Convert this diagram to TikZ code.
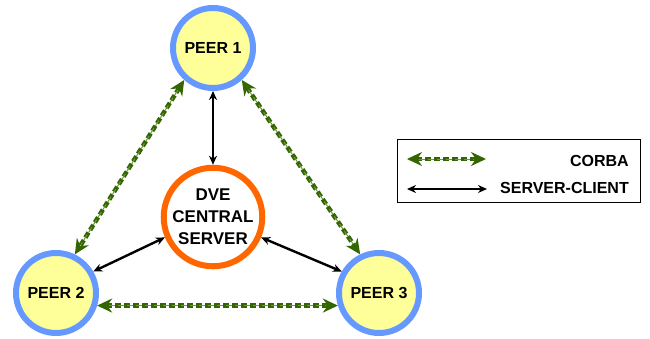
\documentclass[tikz,border=0pt]{standalone}
\usepackage{fontspec}
\setmainfont{Liberation Sans}
\usetikzlibrary{arrows.meta}

\definecolor{peerfill}{HTML}{FFFF99}
\definecolor{peerring}{HTML}{6699FF}
\definecolor{srvring}{HTML}{FF6600}
\definecolor{corbadark}{HTML}{336600}
\definecolor{corbalight}{HTML}{6E9A3C}

\tikzset{
  peer/.style={circle, draw=peerring, fill=peerfill, line width=6pt,
    minimum size=80pt, inner sep=0pt, align=center,
    font=\fontsize{16}{18}\selectfont\bfseries},
  central/.style={circle, draw=srvring, fill=white, line width=6pt,
    minimum size=98pt, inner sep=0pt, align=center,
    font=\fontsize{17}{22}\selectfont\bfseries},
  corba/.style={draw=corbadark, line width=4.5pt, dash pattern=on 6pt off 3pt,
    {Stealth[length=15pt,width=14pt,inset=5pt]}-{Stealth[length=15pt,width=14pt,inset=5pt]},
    postaction={draw=corbalight, line width=1pt, dash pattern=on 6pt off 3pt,
      -, shorten <=12pt, shorten >=12pt}},
  sc/.style={draw=black, line width=2.4pt,
    {Stealth[length=9pt,width=8pt]}-{Stealth[length=9pt,width=8pt]}},
  legendbox/.style={draw=black, line width=1.2pt},
  legendtext/.style={font=\fontsize{16}{18}\selectfont\bfseries, inner sep=0pt}
}

\begin{document}
\begin{tikzpicture}[x=1pt, y=-1pt]
  \useasboundingbox (0,0) rectangle (650,338);

  % peers and the central server
  \node[peer] (p1) at (213,48) {PEER 1};
  \node[peer] (p2) at (56,293) {PEER 2};
  \node[peer] (p3) at (379,293) {PEER 3};
  \node[central] (srv) at (213,217) {DVE\\CENTRAL\\SERVER};

  % server-client links
  \draw[sc] (p1.south) -- (srv.north);
  \draw[sc] (p2.30) -- (srv.203);
  \draw[sc] (p3.150) -- (srv.337);

  % CORBA links between peers
  \draw[corba] (p1.228) -- (p2.64);
  \draw[corba] (p1.312) -- (p3.116);
  \draw[corba] (p2.-17) -- (p3.197);

  % legend
  \node[legendbox, minimum width=243pt, minimum height=63pt, anchor=north west]
    (legend) at (397,139) {};
  \coordinate (ca) at (407,159);
  \coordinate (cb) at (486,159);
  \coordinate (sa) at (407,189);
  \coordinate (sb) at (487,189);
  \draw[corba] (ca) -- (cb);
  \draw[sc] (sa) -- (sb);
  \node[legendtext, anchor=east] (lcorba) at (629,161) {CORBA};
  \node[legendtext, anchor=east] (lsc) at (629,188) {SERVER-CLIENT};
\end{tikzpicture}
\end{document}
